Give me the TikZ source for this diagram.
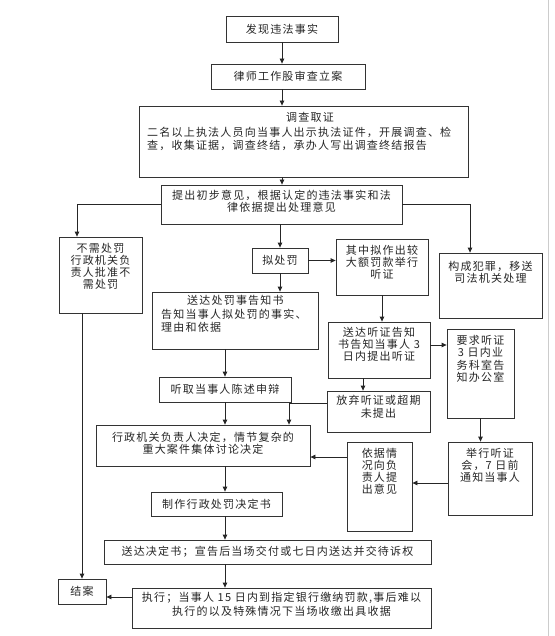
\documentclass[tikz,border=0pt]{standalone}
\usepackage{fontspec}
\setmainfont{Noto Sans CJK SC}[LetterSpace=11]
\usetikzlibrary{arrows.meta}
\newcommand\fs{\fontsize{11}{12}\selectfont}
\newcommand\bx[5]{\node[box,minimum width={(#4-#2)*1pt},minimum height={(#5-#3)*1pt}] (#1) at ({(#2+#4)/2},{(#3+#5)/2}) {};}
\tikzset{
  box/.style={draw=black!80, line width=0.8pt, inner sep=0pt, rectangle},
  txt/.style={align=center, inner sep=0pt, font=\fs, text=black!85},
  arr/.style={-{Triangle[length=5pt,width=4.5pt]}, draw=black!85, line width=0.8pt},
  ln/.style={draw=black!85, line width=0.8pt},
}
\begin{document}
\begin{tikzpicture}[x=1pt,y=-1pt]
\useasboundingbox (0,0) rectangle (554,636);
\fill[white] (0,0) rectangle (554,636);
\draw[black!20, line width=0.8pt] (548,0) -- (548,636);

% boxes
\bx{B1}{226}{16}{338}{42}
\bx{B2}{211}{64}{365}{89}
\bx{B3}{139}{106}{468}{177}
\bx{B4}{161}{185}{402}{224}
\bx{B5}{59}{237}{142}{313}
\bx{B6}{252}{248}{308}{273}
\bx{B7}{336}{239}{428}{295}
\bx{B8}{439}{253}{542}{318}
\bx{B9}{152}{292}{318}{349}
\bx{B10}{328}{322}{430}{378}
\bx{B11}{447}{329}{514}{418}
\bx{B12}{159}{377}{291}{402}
\bx{B13}{327}{391}{430}{432}
\bx{B14}{96}{425}{310}{466}
\bx{B15}{347}{442}{412}{531}
\bx{B16}{448}{442}{532}{515}
\bx{B17}{151}{492}{282}{516}
\bx{B18}{104}{540}{431}{564}
\bx{B19}{132}{588}{431}{628}
\bx{B20}{58}{579}{106}{604}

% texts
\node[txt] (t1) at (B1) {发现违法事实};
\node[txt] (t2) at (B2) {律师工作股审查立案};
\node[txt,anchor=north] (t3a) at (310,112) {调查取证};
\node[txt,anchor=north west,align=left,font={\fontsize{11}{13}\selectfont}] (t3b) at (147,126.5) {二名以上执法人员向当事人出示执法证件，开展调查、检\\查，收集证据，调查终结，承办人写出调查终结报告};
\node[txt,anchor=north] (t4) at (281.5,190.2) {提出初步意见，根据认定的违法事实和法\\律依据提出处理意见};
\node[txt,anchor=north] (t5) at (100.5,243.2) {不需处罚\\行政机关负\\责人批准不\\需处罚};
\node[txt] (t6) at (B6) {拟处罚};
\node[txt,anchor=north] (t7) at (382,245.2) {其中拟作出较\\大额罚款举行\\听证};
\node[txt,anchor=north] (t8) at (490.5,261.2) {构成犯罪，移送\\司法机关处理};
\node[txt,anchor=north west,align=left,font={\fontsize{11}{13.5}\selectfont}] (t9) at (161,295.2) {\hspace*{26pt}送达处罚事告知书\\告知当事人拟处罚的事实、\\理由和依据};
\node[txt,anchor=north] (t10) at (379,327.2) {送达听证告知\\书告知当事人 3\\日内提出听证};
\node[txt,anchor=north,font={\fontsize{11}{12.3}\selectfont}] (t11) at (480.5,335.2) {要求听证\\3 日内业\\务科室告\\知办公室};
\node[txt] (t12) at (B12) {听取当事人陈述申辩};
\node[txt,anchor=north,font={\fontsize{11}{13}\selectfont}] (t13) at (378.5,395.2) {放弃听证或超期\\未提出};
\node[txt,anchor=north] (t14) at (203,432.2) {行政机关负责人决定，情节复杂的\\重大案件集体讨论决定};
\node[txt,anchor=north] (t15) at (379.5,448.2) {依据情\\况向负\\责人提\\出意见};
\node[txt,anchor=north] (t16) at (490,448.2) {举行听证\\会，7 日前\\通知当事人};
\node[txt] (t17) at (B17) {制作行政处罚决定书};
\node[txt] (t18) at (B18) {送达决定书；宣告后当场交付或七日内送达并交待诉权};
\node[txt,anchor=north,font={\fontsize{11}{14}\selectfont}] (t19) at (281.5,592.2) {执行；当事人 15 日内到指定银行缴纳罚款,事后难以\\执行的以及特殊情况下当场收缴出具收据};
\node[txt] (t20) at (B20) {结案};

% connectors
\draw[arr] (B1.south) -- (B1.south |- B2.north);
\draw[arr] (B1.south |- B2.south) -- (B1.south |- B3.north);
\draw[arr] (B1.south |- B3.south) -- (B1.south |- B4.north);
\draw[arr] (B6.north |- B4.south) -- (B6.north);
\draw[arr] (B4.west) -| ([xshift=-23.5pt]B5.north);
\draw[arr] (B4.east) -| ([xshift=-20.5pt]B8.north);
\draw[arr] (B6.east) -- (B6.east -| B7.west);
\draw[arr] (B6.south) -- (B6.south |- B9.north);
\draw[arr] (B7.south) -- (B7.south |- B10.north);
\draw[arr] ([yshift=5pt]B10.east) -- ([yshift=5pt]B10.east -| B11.west);
\draw[arr] (B12.north |- B9.south) -- (B12.north);
\draw[arr] ([xshift=-16pt]B10.south) -- ([xshift=-16pt]B10.south |- B13.north);
\draw[arr] (B12.south) -- (B12.south |- B14.north);
\draw[arr] ([yshift=8.5pt]B13.west) -| ([xshift=86pt]B14.north);
\draw[arr] (B11.south) -- (B11.south |- B16.north);
\draw[arr] ([yshift=-4.5pt]B16.west) -- ([yshift=-4.5pt]B16.west -| B15.east);
\draw[arr] ([yshift=29.5pt]B15.west) -- ([yshift=29.5pt]B15.west -| B14.east);
\draw[arr] (B12.south |- B14.south) -- (B12.south |- B17.north);
\draw[arr] (B12.south |- B17.south) -- (B12.south |- B18.north);
\draw[arr] (B12.south |- B18.south) -- (B12.south |- B19.north);
\draw[arr] ([yshift=11pt]B19.west) -- ([yshift=11pt]B19.west -| B20.east);
\draw[arr] (B5.south -| B20.north) -- (B20.north);
\end{tikzpicture}
\end{document}
